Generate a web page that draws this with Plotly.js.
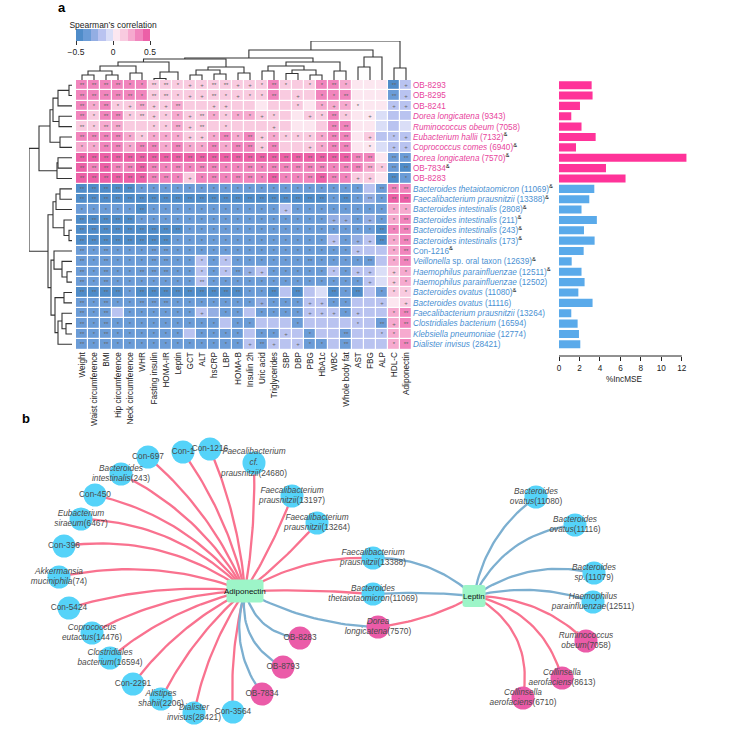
<!DOCTYPE html>
<html><head><meta charset="utf-8">
<script src="https://cdn.plot.ly/plotly-3.0.1.min.js"></script>
<style>html,body{margin:0;padding:0;background:#fff}#chart{width:734px;height:733px}</style>
</head><body><div id="chart"></div>
<script>
const W = 734, H = 733;
const FONT = "Liberation Sans, Arial, Helvetica, sans-serif";

// ---------- panel a data ----------
const clinicalVars = ["Weight","Waist circumference","BMI","Hip circumference","Neck circumference","WHR","Fasting insulin","HOMA-IR","Leptin","GCT","ALT","hsCRP","LBP","HOMA-B","Insulin 2h","Uric acid","Triglycerides","SBP","DBP","PBG","HbA1c","WBC","Whole body fat","AST","FBG","ALP","HDL-C","Adiponectin"];

const speciesLabels = ["OB-8293","OB-8295","OB-8241","<i>Dorea longicatena</i> (9343)","<i>Ruminococcus obeum</i> (7058)","<i>Eubacterium hallii</i> (7132)","<i>Coprococcus comes</i> (6940)","<i>Dorea longicatena</i> (7570)","OB-7834","OB-8283","<i>Bacteroides thetaiotaomicron</i> (11069)","<i>Faecalibacterium prausnitzii</i> (13388)","<i>Bacteroides intestinalis</i> (2808)","<i>Bacteroides intestinalis</i> (211)","<i>Bacteroides intestinalis</i> (243)","<i>Bacteroides intestinalis</i> (173)","Con-1216","<i>Veillonella</i> sp. oral taxon (12639)","<i>Haemophilus parainfluenzae</i> (12511)","<i>Haemophilus parainfluenzae</i> (12502)","<i>Bacteroides ovatus</i> (11080)","<i>Bacteroides ovatus</i> (11116)","<i>Faecalibacterium prausnitzii</i> (13264)","<i>Clostridiales bacterium</i> (16594)","<i>Klebsiella pneumoniae</i> (12774)","<i>Dialister invisus</i> (28421)"];
const speciesFlag = [0,0,0,0,0,1,1,1,1,0,1,1,1,1,1,1,1,1,1,0,1,0,0,0,0,0];
const speciesGroup = ["up","up","up","up","up","up","up","up","up","up","down","down","down","down","down","down","down","down","down","down","down","down","down","down","down","down"];
const incMSE = [3.19,3.28,2.05,1.2,2.2,3.58,1.66,12.45,4.59,6.5,3.45,2.96,2.2,3.7,2.44,3.48,2.41,1.24,2.2,2.5,1.89,3.28,1.2,1.82,1.95,2.08];

const corr = [
 [0.33,0.33,0.33,0.33,0.32,0.32,0.15,0.15,0.16,0.12,0.12,0.17,0.16,0.12,0.13,0.14,0.32,0.15,0.12,0.15,0.32,0.33,0.28,0.06,0.05,0.05,-0.42,-0.17],
 [0.33,0.33,0.33,0.32,0.32,0.32,0.16,0.16,0.14,0.12,0.12,0.17,0.17,0.12,0.14,0.14,0.32,0.14,0.12,0.14,0.32,0.32,0.33,0.05,0.05,0.05,-0.38,-0.18],
 [0.32,0.25,0.32,0.16,0.13,0.28,0.13,0.13,0.28,0.12,0.12,0.14,0.13,0.11,0.11,0.06,0.12,0.13,0.14,0.06,0.28,0.28,0.28,0.06,0.05,0.05,-0.17,-0.17],
 [0.32,0.14,0.32,0.32,0.14,0.17,0.13,0.14,0.28,0.12,0.16,0.28,0.14,0.28,0.28,0.12,0.16,0.12,0.06,0.12,0.15,0.32,0.16,0.05,0.06,-0.08,-0.17,-0.17],
 [0.16,0.15,0.28,0.28,0.12,0.12,0.14,0.14,0.28,0.12,0.14,0.12,0.13,0.12,0.12,0.12,0.13,0.12,0.06,0.06,0.12,0.33,0.32,0.05,0.05,-0.08,-0.16,-0.08],
 [0.32,0.32,0.32,0.32,0.28,0.16,0.28,0.28,0.28,0.14,0.13,0.28,0.32,0.28,0.32,0.13,0.28,0.16,0.15,0.15,0.28,0.33,0.33,0.05,0.14,-0.14,-0.17,-0.16],
 [0.28,0.28,0.32,0.32,0.28,0.32,0.32,0.28,0.32,0.27,0.27,0.32,0.28,0.32,0.32,0.14,0.32,0.15,0.15,0.13,0.28,0.33,0.33,0.06,0.06,-0.08,-0.17,-0.17],
 [0.42,0.42,0.42,0.42,0.41,0.42,0.42,0.42,0.42,0.41,0.41,0.42,0.41,0.42,0.42,0.41,0.42,0.41,0.41,0.41,0.42,0.42,0.41,0.33,0.33,0.06,-0.35,-0.38],
 [0.42,0.35,0.42,0.35,0.35,0.42,0.33,0.32,0.35,0.32,0.33,0.35,0.32,0.33,0.35,0.32,0.35,0.35,0.35,0.35,0.35,0.32,0.35,0.32,0.22,0.15,-0.35,-0.42],
 [0.42,0.42,0.42,0.42,0.42,0.42,0.35,0.35,0.32,0.15,0.32,0.35,0.32,0.35,0.35,0.32,0.42,0.32,0.32,0.35,0.42,0.35,0.32,0.15,0.15,0.06,-0.42,-0.35],
 [-0.42,-0.42,-0.42,-0.42,-0.42,-0.35,-0.35,-0.35,-0.35,-0.35,-0.35,-0.35,-0.35,-0.35,-0.35,-0.35,-0.35,-0.35,-0.35,-0.35,-0.35,-0.35,-0.35,-0.33,-0.18,-0.35,0.32,0.33],
 [-0.42,-0.42,-0.42,-0.42,-0.42,-0.42,-0.42,-0.42,-0.42,-0.42,-0.42,-0.42,-0.42,-0.42,-0.42,-0.42,-0.42,-0.42,-0.42,-0.42,-0.42,-0.35,-0.42,-0.35,-0.22,-0.35,0.42,0.42],
 [-0.35,-0.35,-0.35,-0.35,-0.35,-0.42,-0.35,-0.35,-0.35,-0.35,-0.35,-0.35,-0.35,-0.35,-0.35,-0.35,-0.35,-0.15,-0.35,-0.35,-0.35,-0.35,-0.35,-0.35,-0.35,-0.35,0.28,0.28],
 [-0.42,-0.42,-0.42,-0.42,-0.42,-0.35,-0.35,-0.35,-0.35,-0.35,-0.35,-0.35,-0.35,-0.35,-0.35,-0.35,-0.35,-0.35,-0.35,-0.35,-0.35,-0.22,-0.22,-0.35,-0.25,-0.35,0.28,0.33],
 [-0.42,-0.42,-0.42,-0.42,-0.42,-0.42,-0.42,-0.42,-0.42,-0.35,-0.35,-0.35,-0.35,-0.35,-0.35,-0.35,-0.35,-0.35,-0.35,-0.35,-0.35,-0.35,-0.35,-0.35,-0.35,-0.42,0.32,0.33],
 [-0.42,-0.42,-0.42,-0.42,-0.42,-0.45,-0.42,-0.42,-0.35,-0.35,-0.35,-0.35,-0.35,-0.35,-0.35,-0.35,-0.35,-0.35,-0.35,-0.35,-0.35,-0.18,-0.35,-0.22,-0.18,-0.42,0.28,0.33],
 [-0.35,-0.35,-0.35,-0.35,-0.35,-0.35,-0.35,-0.35,-0.35,-0.35,-0.35,-0.35,-0.35,-0.35,-0.35,-0.35,-0.35,-0.35,-0.35,-0.35,-0.35,-0.35,-0.35,-0.18,-0.15,-0.15,0.28,0.33],
 [-0.35,-0.33,-0.35,-0.33,-0.33,-0.33,-0.35,-0.35,-0.33,-0.33,-0.15,-0.33,-0.15,-0.33,-0.33,-0.33,-0.33,-0.33,-0.33,-0.38,-0.33,-0.33,-0.33,-0.33,-0.35,-0.15,0.28,0.33],
 [-0.35,-0.33,-0.35,-0.33,-0.33,-0.35,-0.35,-0.35,-0.33,-0.33,-0.15,-0.33,-0.15,-0.35,-0.25,-0.15,-0.33,-0.33,-0.33,-0.33,-0.33,-0.15,-0.33,-0.15,-0.15,-0.08,0.18,0.28],
 [-0.35,-0.33,-0.35,-0.33,-0.33,-0.33,-0.33,-0.33,-0.33,-0.33,-0.15,-0.33,-0.33,-0.33,-0.33,-0.33,-0.33,-0.33,-0.33,-0.33,-0.33,-0.33,-0.33,-0.33,-0.18,-0.08,0.18,0.28],
 [-0.42,-0.42,-0.42,-0.42,-0.35,-0.42,-0.42,-0.42,-0.42,-0.42,-0.42,-0.42,-0.42,-0.42,-0.35,-0.35,-0.42,-0.15,-0.42,-0.15,-0.08,-0.42,-0.35,-0.42,-0.15,-0.35,0.15,0.15],
 [-0.35,-0.33,-0.35,-0.33,-0.33,-0.35,-0.35,-0.35,-0.33,-0.33,-0.33,-0.33,-0.33,-0.33,-0.33,-0.22,-0.33,-0.33,-0.33,-0.15,-0.15,-0.33,-0.33,-0.15,-0.15,-0.15,0.05,0.15],
 [-0.35,-0.33,-0.35,-0.15,-0.33,-0.33,-0.33,-0.33,-0.33,-0.33,-0.15,-0.22,-0.33,-0.33,-0.15,-0.33,-0.33,-0.33,-0.33,-0.15,-0.15,-0.15,-0.33,-0.15,-0.15,-0.15,0.28,0.32],
 [-0.35,-0.33,-0.35,-0.33,-0.33,-0.33,-0.33,-0.33,-0.33,-0.33,-0.33,-0.33,-0.15,-0.33,-0.33,-0.15,-0.15,-0.15,-0.33,-0.15,-0.15,-0.15,-0.15,-0.15,-0.15,-0.38,0.26,0.32],
 [-0.35,-0.33,-0.35,-0.33,-0.33,-0.33,-0.33,-0.33,-0.33,-0.15,-0.33,-0.33,-0.33,-0.33,-0.15,-0.33,-0.33,-0.15,-0.15,-0.33,-0.15,-0.15,-0.35,-0.15,-0.15,-0.15,0.28,0.28],
 [-0.35,-0.33,-0.35,-0.33,-0.33,-0.33,-0.33,-0.33,-0.33,-0.33,-0.33,-0.33,-0.33,-0.33,-0.15,-0.35,-0.15,-0.15,-0.15,-0.33,-0.33,-0.15,-0.35,-0.15,-0.15,-0.15,0.28,0.33]
];

// significance marks per row (28 cells, "|" separated)
const signifRows = [
 "**|**|**|**|*|*|**|**|*|+|+|**|**|+|+|*|**|*||*|*|**|*||||**|+",
 "**|**|**|**|**|*|**|**|*|+|+|**|*|+|*|*|**||+||*|*|**||||**|+",
 "**|*|**|*|+|**|+|+|**|||+|+||||||*||*|+|*|*|||+|+",
 "**|*|**|**|*|**|+|*|*|+|**|*|*|*|*|+|*|||+|*|**|*||+|||",
 "**|*|**|**|||*|*|**|+|**||*||||+|||||**|**|||||",
 "**|**|**|**|*|*|*|*|*|+|+|*|**|*|**|+|*|*|*|*|*|**|**||+||*|+",
 "*|*|**|**|*|**|**|*|**|*|*|**|*|**|**|+|**|||+|*|**|**||*||+|+",
 "**|**|**|**|**|**|**|**|**|**|**|**|**|**|**|**|**|**|**|**|**|**|**|**|**||**|**",
 "**|**|**|**|**|**|**|*|**|*|**|**|*|*|**|*|**|**|**|**|**|*|**|**|**|*|**|**",
 "**|**|**|**|**|**|**|**|*|+|*|**|*|**|**|*|**|*|*|**|**|**|*|+|+||**|*",
 "**|**|**|**|**|*|*|*|*|*|*|*|*|*|*|*|*|*|*|*|*|*|*|*||**|**|**",
 "**|**|**|**|**|**|**|**|**|**|**|**|**|**|**|**|**|**|**|**|**|*|**|*|**|*|**|**",
 "*|*|*|*|*|**|*|*|*|*|*|*|*|*|*|*|*|+|*|*|*|*|*|*|*|*|*|*",
 "**|**|**|**|**|*|*|*|*|*|*|*|*|*|*|*|*|*|*|*|*|+|+|*|+|*|*|**",
 "**|**|**|**|**|**|**|**|**|*|*|*|*|*|*|*|*|*|*|*|*|*|*|*|*|**|*|**",
 "**|**|**|**|**|**|**|**|*|*|*|*|*|*|*|*|*|*|*|*|*|+|*|+|+|**|*|**",
 "**|*|**|*|*|*|**|**|*|*|*|*|*|*|*|*|*|*|*|*|*|*|*|+|||*|**",
 "**|*|**|*|*|*|**|**|*|*|*|*|*|*|*|*|*|*|*|**|*|*|*|*|**||*|**",
 "**|*|**|*|*|**|**|**|*|*|*|*|*|**|+|+|*|*|*|*|*|*|*|+|+||+|*",
 "**|*|**|*|*|*|*|*|*|*|**|*|*|*|*|*|*|*|*|*|*|*|*|*|+||+|*",
 "**|**|**|**|*|**|**|**|**|**|**|**|**|**|*|*|**||**|||**|*|**||*|*|*",
 "**|*|**|*|*|**|**|**|*|*|*|*|*|*|*|+|*|*|*|+|+|*|*|||+||+",
 "**|*|**||*|*|*|*|*|*|+||*|*||*|*|*|*|+|+|+|*|+|||*|**",
 "**|*|**|*|*|*|*|*|*|*|*|*||*|*||||*|||||*||**|+|**",
 "**|*|**|*|*|*|*|*|*||*|*|*|*||*|*|+||*|||**|||*|*",
 "**|*|**|*|*|*|*|*|*|*|*|*|*|*|+|**|+||+|*|*||**||||*|**"
];

// hierarchical clustering (merge list: childA, childB, height)
const colMerges = [[0,1,5],[2,3,5],[28,29,9],[4,5,7],[30,31,14],[6,7,1.5],[33,8,8],[32,34,18],[9,10,5],[11,12,6],[36,37,10],[13,14,7],[38,39,13],[35,40,21],[15,16,9],[17,18,6.5],[19,20,5],[43,44,10],[42,45,14],[21,22,9],[46,47,18],[41,48,22],[23,24,13],[50,25,23],[49,51,30],[26,27,12],[52,53,39]];
const rowMerges = [[0,1,3],[26,2,14],[3,4,13],[27,28,19],[5,6,12],[29,30,22],[7,8,14],[32,9,15],[31,33,33],[10,11,12],[35,12,16],[14,15,3],[13,37,8],[36,38,19],[18,19,5],[17,40,10],[16,41,18],[20,21,8],[23,24,6],[22,44,10],[45,25,14],[43,46,17],[42,47,21],[39,48,24],[34,49,43]];

// ---------- panel b data (network) ----------
const netLabel = ["Adiponectin","Leptin","Con-697","Con-1","Con-1216",
 "<i>Faecalibacterium</i><br><i>cf.</i><br><i>prausnitzii</i>(24680)",
 "<i>Bacteroides</i><br><i>intestinalis</i>(243)","Con-450",
 "<i>Eubacterium</i><br><i>siraeum</i>(6467)","Con-396",
 "<i>Akkermansia</i><br><i>muciniphila</i>(74)","Con-5424",
 "<i>Coprococcus</i><br><i>eutactus</i>(14476)",
 "<i>Clostridiales</i><br><i>bacterium</i>(16594)","Con-2291",
 "<i>Alistipes</i><br><i>shahii</i>(2206)",
 "<i>Dialister</i><br><i>invisus</i>(28421)","Con-3564",
 "<i>Faecalibacterium</i><br><i>prausnitzii</i>(13197)",
 "<i>Faecalibacterium</i><br><i>prausnitzii</i>(13264)",
 "<i>Faecalibacterium</i><br><i>prausnitzii</i>(13388)",
 "<i>Bacteroides</i><br><i>thetaiotaomicron</i>(11069)",
 "<i>Dorea</i><br><i>longicatena</i>(7570)","OB-8283","OB-8793","OB-7834",
 "<i>Bacteroides</i><br><i>ovatus</i>(11080)",
 "<i>Bacteroides</i><br><i>ovatus</i>(11116)",
 "<i>Bacteroides</i><br><i>sp.</i>(11079)",
 "<i>Haemophilus</i><br><i>parainfluenzae</i>(12511)",
 "<i>Ruminococcus</i><br><i>obeum</i>(7058)",
 "<i>Collinsella</i><br><i>aerofaciens</i>(8613)",
 "<i>Collinsella</i><br><i>aerofaciens</i>(6710)"];
const netX = [245,474,148,183,210,254,121,95,81,64,59,69,92,110,133,161,194,233,292,317,373,373,378,300,283,262,536,575,594,593,586,562,523];
const netY = [591,596,457,452,449,463,474,495,519,546,577,608,633,658,684,699,713,712,496,523,558,594,627,638,667,694,497,525,573,602,641,678,698];
const netKind = ["hub","hub","down","down","down","down","down","down","down","down","down","down","down","down","down","down","down","down","down","down","down","down","up","up","up","up","down","down","down","down","up","up","up"];
const edgeFrom = [0,0,0,0,0,0,0,0,0,0,0,0,0,0,0,0,0,0,0,0,0,0,0,0, 1,1,1,1,1,1,1,1,1,1];
const edgeTo   = [2,3,4,5,6,7,8,9,10,11,12,13,14,15,16,17,18,19,20,21,22,23,24,25, 20,21,22,26,27,28,29,30,31,32];
const edgeSign = ["+","+","+","+","+","+","+","+","+","+","+","+","+","+","+","+","+","+","+","+","-","-","-","-", "-","-","+","-","-","-","-","+","+","+"];
// edge bending (style)
const edgeBend = [0.12,0.1,0.08,0.05,0.15,0.18,0.2,0.2,0.15,0.1,0.12,0.12,0.12,0.1,0.1,0.08,0.05,0.05,-0.15,-0.03,0.12,0.35,0.35,0.25, 0.2,0.04,-0.1,-0.2,-0.27,-0.22,-0.15,-0.2,-0.3,-0.35];

// ---------- helpers ----------
const fy = py => 1 - py / H;
const colIdx = clinicalVars.map((_, i) => i);
const rowIdx = speciesLabels.map((_, i) => i);
const PINK_T = "#E8449C", BLUE_T = "#4A90D2";

const signif = signifRows.map(s => { const a = s.split("|"); while (a.length < 28) a.push(""); return a.slice(0, 28); });

function dendro(merges, n) {
  const pos = [], hgt = [];
  for (let i = 0; i < n; i++) { pos.push(i); hgt.push(0); }
  const P = [], Hh = [];
  merges.forEach(([a, b, h]) => {
    P.push(pos[a], pos[a], pos[b], pos[b], null);
    Hh.push(hgt[a], h, h, hgt[b], null);
    pos.push((pos[a] + pos[b]) / 2); hgt.push(h);
  });
  return { P, Hh };
}
const colD = dendro(colMerges, clinicalVars.length);
const rowD = dendro(rowMerges, speciesLabels.length);

const binColors = ["#4F8CC9","#6B9CD7","#93AEE3","#B9C3F0","#DADEF7","#FCE7F0","#F9CBE0","#F6AACF","#F185BD","#EC60A7"];
const colorscale = [];
binColors.forEach((c, i) => { colorscale.push([i / 10, c]); colorscale.push([(i + 1) / 10, c]); });

const rowTickText = speciesLabels.map((s, i) =>
  `<span style="color:${speciesGroup[i] === 'up' ? PINK_T : BLUE_T}">${s}</span>` + (speciesFlag[i] ? '<sup>&amp;</sup>' : ''));

// ---------- traces ----------
const traces = [];
traces.push({
  type: 'heatmap', z: corr, x: colIdx, y: rowIdx, xaxis: 'x', yaxis: 'y',
  zmin: -0.5, zmax: 0.5, colorscale: colorscale, xgap: 1.2, ygap: 1.2,
  text: signif, texttemplate: '%{text}', textfont: { size: 6, color: '#666', family: FONT },
  hoverinfo: 'skip',
  colorbar: {
    orientation: 'h', thickness: 12, thicknessmode: 'pixels', len: 74, lenmode: 'pixels',
    x: 76 / W, xanchor: 'left', y: fy(19), yanchor: 'top', xpad: 0, ypad: 0, outlinewidth: 0,
    tickvals: [-0.5, 0, 0.5], ticktext: ['\u22120.5', '0', '0.5'], ticks: 'outside', ticklen: 4,
    tickcolor: '#333', tickfont: { size: 8.5, family: FONT, color: '#222' },
    title: { text: "Spearman\u2019s correlation", side: 'top', font: { size: 8.5, family: FONT, color: '#222' } }
  }
});
traces.push({ type: 'scatter', mode: 'lines', x: colD.P, y: colD.Hh, xaxis: 'x', yaxis: 'y3',
  line: { color: '#333', width: 1.1 }, hoverinfo: 'skip' });
traces.push({ type: 'scatter', mode: 'lines', x: rowD.Hh, y: rowD.P, xaxis: 'x3', yaxis: 'y',
  line: { color: '#333', width: 1.1 }, hoverinfo: 'skip' });
traces.push({ type: 'bar', orientation: 'h', x: incMSE, y: rowIdx, xaxis: 'x2', yaxis: 'y', width: 0.78,
  marker: { color: speciesGroup.map(g => g === 'up' ? '#FF3399' : '#5AAAEA') }, hoverinfo: 'skip' });

// network edges
function bend(i) {
  const a = edgeFrom[i], b = edgeTo[i];
  const x0 = netX[a], y0 = netY[a], x1 = netX[b], y1 = netY[b];
  const dx = x1 - x0, dy = y1 - y0, c = edgeBend[i];
  const cx = (x0 + x1) / 2 - c * dy, cy = (y0 + y1) / 2 + c * dx;
  const xs = [], ys = [];
  for (let k = 0; k <= 30; k++) {
    const t = k / 30, u = 1 - t;
    xs.push(u * u * x0 + 2 * u * t * cx + t * t * x1);
    ys.push(u * u * y0 + 2 * u * t * cy + t * t * y1);
  }
  return [xs, ys];
}
['+', '-'].forEach(sg => {
  const X = [], Y = [];
  edgeSign.forEach((s, i) => { if (s === sg) { const [xs, ys] = bend(i); X.push(...xs, null); Y.push(...ys, null); } });
  traces.push({ type: 'scatter', mode: 'lines', x: X, y: Y, xaxis: 'x4', yaxis: 'y4',
    line: { color: sg === '+' ? '#F9728F' : '#7CAFD0', width: 2.3 }, hoverinfo: 'skip' });
});
const nodeIdx = netKind.map((k, i) => i).filter(i => netKind[i] !== 'hub');
traces.push({ type: 'scatter', mode: 'markers', x: nodeIdx.map(i => netX[i]), y: nodeIdx.map(i => netY[i]),
  xaxis: 'x4', yaxis: 'y4', hoverinfo: 'skip',
  marker: { size: 23, color: nodeIdx.map(i => netKind[i] === 'up' ? '#EB5BA8' : '#55D3F9'), line: { width: 0 } } });
traces.push({ type: 'scatter', mode: 'text', x: nodeIdx.map(i => netX[i]), y: nodeIdx.map(i => netY[i]),
  text: nodeIdx.map(i => netLabel[i]), textposition: 'middle center', xaxis: 'x4', yaxis: 'y4', hoverinfo: 'skip',
  textfont: { size: 8.3, color: '#4a4a4a', family: FONT } });

// hub boxes
function rrect(cx, cy, w, h, r) {
  const x0 = cx - w / 2, x1 = cx + w / 2, y0 = cy - h / 2, y1 = cy + h / 2;
  return `M${x0 + r},${y0} L${x1 - r},${y0} Q${x1},${y0} ${x1},${y0 + r} L${x1},${y1 - r} Q${x1},${y1} ${x1 - r},${y1} L${x0 + r},${y1} Q${x0},${y1} ${x0},${y1 - r} L${x0},${y0 + r} Q${x0},${y0} ${x0 + r},${y0} Z`;
}
const hubSize = [[37, 23], [23, 22]];
const shapes = [0, 1].map(i => ({ type: 'path', xref: 'x4', yref: 'y4', layer: 'above',
  path: rrect(netX[i], netY[i], hubSize[i][0], hubSize[i][1], 3), fillcolor: '#9DF5C8', line: { width: 0 } }));
shapes.push({ type: 'line', xref: 'x2', yref: 'paper', x0: 0, x1: 12, y0: fy(356), y1: fy(356), line: { color: '#222', width: 1 } });

const annotations = [
  { text: '<b>a</b>', x: 62 / W, y: fy(8), xref: 'paper', yref: 'paper', xanchor: 'center', yanchor: 'middle', showarrow: false, font: { size: 13, family: FONT, color: '#000' } },
  { text: '<b>b</b>', x: 26 / W, y: fy(418), xref: 'paper', yref: 'paper', xanchor: 'center', yanchor: 'middle', showarrow: false, font: { size: 13, family: FONT, color: '#000' } },
  ...[0, 1].map(i => ({ text: netLabel[i], x: netX[i], y: netY[i], xref: 'x4', yref: 'y4', showarrow: false,
    font: { size: 8, family: FONT, color: '#111' } }))
];

const noAx = { visible: false, showgrid: false, zeroline: false, fixedrange: true };
const layout = {
  width: W, height: H, margin: { l: 0, r: 0, t: 0, b: 0 }, paper_bgcolor: '#fff', plot_bgcolor: 'rgba(0,0,0,0)',
  showlegend: false, font: { family: FONT, size: 8, color: '#222' },
  xaxis: { domain: [76 / W, 412 / W], range: [-0.5, 27.5], anchor: 'y', tickvals: colIdx, ticktext: clinicalVars,
    tickangle: -90, ticks: '', showgrid: false, zeroline: false, showline: false, tickfont: { size: 8.2, color: '#222' } },
  yaxis: { domain: [fy(349.5), fy(80)], range: [25.5, -0.5], anchor: 'x', side: 'right', tickvals: rowIdx,
    ticktext: rowTickText, ticks: '', showgrid: false, zeroline: false, showline: false, tickfont: { size: 8.2, color: '#111' } },
  xaxis2: { domain: [559 / W, 689 / W], range: [0, 12.7], anchor: 'free', position: fy(356),
    tickvals: [0, 2, 4, 6, 8, 10, 12], ticks: 'outside', ticklen: 4, tickcolor: '#222', showgrid: false,
    zeroline: false, showline: false, tickfont: { size: 8.2, color: '#222' },
    title: { text: '%IncMSE', font: { size: 8.2, color: '#222' }, standoff: 4 } },
  xaxis3: Object.assign({ domain: [29 / W, 72 / W], range: [43, 0], anchor: 'y' }, noAx),
  yaxis3: Object.assign({ domain: [fy(80), fy(41)], range: [0, 39], anchor: 'x' }, noAx),
  xaxis4: Object.assign({ domain: [0, 1], range: [0, W], anchor: 'y4' }, noAx),
  yaxis4: Object.assign({ domain: [0, fy(400)], range: [H, 400], anchor: 'x4' }, noAx),
  shapes: shapes, annotations: annotations
};
Plotly.newPlot('chart', traces, layout, { displayModeBar: false, staticPlot: true });
</script></body></html>
